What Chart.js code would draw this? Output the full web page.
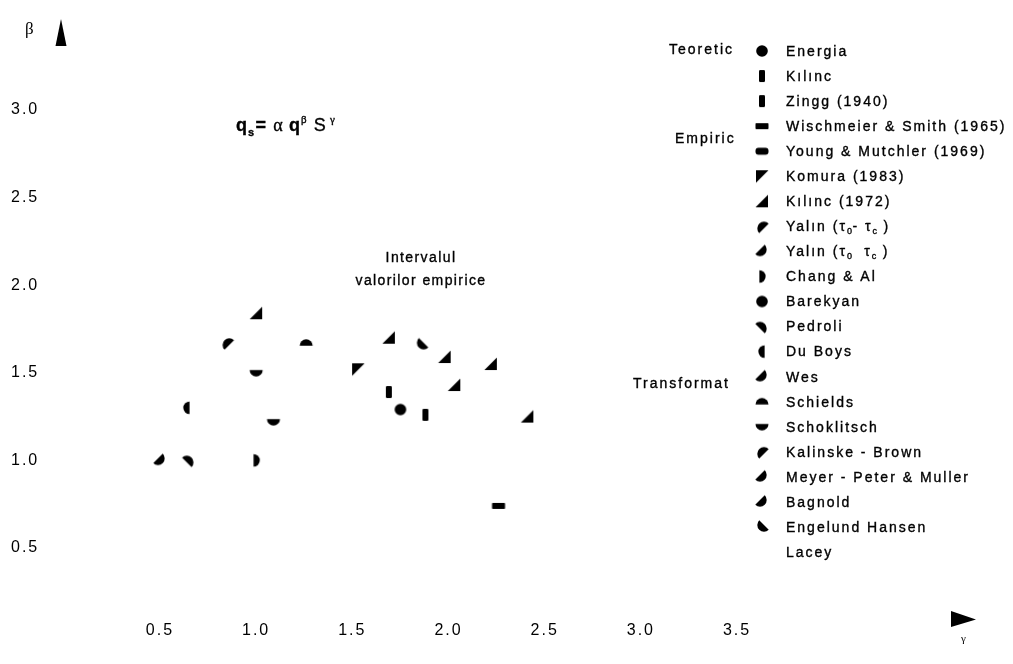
<!DOCTYPE html>
<html>
<head>
<meta charset="utf-8">
<script src="https://cdn.jsdelivr.net/npm/chart.js@4/dist/chart.umd.min.js"></script>
<style>
  html, body { margin: 0; padding: 0; background: #fff; }
  canvas { display: block; }
</style>
</head>
<body>
<canvas id="chart" width="1013" height="664"></canvas>
<script>
// Axis ticks
const xTickValues = [0.5, 1.0, 1.5, 2.0, 2.5, 3.0, 3.5];
const xTickLabels = ['0.5', '1.0', '1.5', '2.0', '2.5', '3.0', '3.5'];
const yTickValues = [0.5, 1.0, 1.5, 2.0, 2.5, 3.0];
const yTickLabels = ['0.5', '1.0', '1.5', '2.0', '2.5', '3.0'];

// Formulas listed in the key, top to bottom
const seriesNames = [
  'Energia', 'Kılınc', 'Zingg (1940)', 'Wischmeier & Smith (1965)',
  'Young & Mutchler (1969)', 'Komura (1983)', 'Kılınc (1972)',
  'Yalın (τ0- τc )', 'Yalın (τ0  τc )', 'Chang & Al', 'Barekyan', 'Pedroli',
  'Du Boys', 'Wes', 'Schields', 'Schoklitsch', 'Kalinske - Brown',
  'Meyer - Peter & Muller', 'Bagnold', 'Engelund Hansen', 'Lacey'
];

// Group captions of the key
const groupNames = ['Teoretic', 'Empiric', 'Transformat'];

// Exponent pairs (γ for S, β for q), one entry per plotted formula
const pointSeries = [
  'Energia', 'Kılınc', 'Zingg (1940)', 'Wischmeier & Smith (1965)', 'Komura (1983)',
  'Kılınc (1972)', 'Kılınc (1972)', 'Kılınc (1972)', 'Kılınc (1972)', 'Kılınc (1972)', 'Kılınc (1972)',
  'Kalinske - Brown', 'Schields', 'Schoklitsch', 'Schoklitsch', 'Du Boys',
  'Meyer - Peter & Muller', 'Pedroli', 'Chang & Al', 'Engelund Hansen'
];
const pointGamma = [
  1.75, 1.69, 1.88, 2.26, 1.53,
  1.00, 1.69, 1.98, 2.22, 2.03, 2.41,
  0.85, 1.26, 1.00, 1.09, 0.64,
  0.50, 0.65, 1.00, 1.86
];
const pointBeta = [
  1.29, 1.39, 1.26, 0.74, 1.52,
  1.84, 1.70, 1.59, 1.55, 1.43, 1.25,
  1.67, 1.67, 1.50, 1.22, 1.30,
  1.00, 1.00, 1.00, 1.66
];

// Marker glyph used for each formula
const markerKind = {
  'Energia': 'disc', 'Kılınc': 'vbar', 'Zingg (1940)': 'vbar',
  'Wischmeier & Smith (1965)': 'hbar', 'Young & Mutchler (1969)': 'hbarRound',
  'Komura (1983)': 'triUL', 'Kılınc (1972)': 'triLR',
  'Yalın (τ0- τc )': 'halfUL', 'Yalın (τ0  τc )': 'halfLR',
  'Chang & Al': 'halfR', 'Barekyan': 'disc', 'Pedroli': 'halfUR',
  'Du Boys': 'halfL', 'Wes': 'halfLR', 'Schields': 'halfT',
  'Schoklitsch': 'halfB', 'Kalinske - Brown': 'halfUL',
  'Meyer - Peter & Muller': 'halfLR', 'Bagnold': 'halfLR',
  'Engelund Hansen': 'halfLL', 'Lacey': null
};

const FONT = '"Liberation Sans", Arial, sans-serif';
const SERIF = '"Liberation Serif", serif';
const INK = '#000';

// Builds a small bitmap used as a point style
function markerCanvas(kind) {
  const S = 18;
  const c = document.createElement('canvas');
  c.width = S; c.height = S;
  if (!kind) return c;
  const g = c.getContext('2d');
  g.fillStyle = '#000';
  g.translate(S / 2, S / 2);
  g.beginPath();
  const half = (dir, r) => {
    const ox = -Math.cos(dir) * r * 0.42, oy = -Math.sin(dir) * r * 0.42;
    g.arc(ox, oy, r, dir - Math.PI / 2, dir + Math.PI / 2);
    g.closePath();
  };
  switch (kind) {
    case 'disc': g.arc(0, 0, 5.8, 0, Math.PI * 2); break;
    case 'vbar': g.roundRect(-3, -6, 6, 12, 1.2); break;
    case 'hbar': g.roundRect(-6.5, -3, 13, 6, 0.8); break;
    case 'hbarRound': g.roundRect(-6.5, -3.5, 13, 7, 3); break;
    case 'triUL': g.moveTo(-6, -6); g.lineTo(6.5, -6); g.lineTo(-6, 6.5); g.closePath(); break;
    case 'triLR': g.moveTo(6, -6.5); g.lineTo(6, 6); g.lineTo(-6.5, 6); g.closePath(); break;
    case 'halfR': half(0, 6.3); break;
    case 'halfL': half(Math.PI, 6.3); break;
    case 'halfT': half(-Math.PI / 2, 6.5); break;
    case 'halfB': half(Math.PI / 2, 6.5); break;
    case 'halfUL': half(-3 * Math.PI / 4, 6.7); break;
    case 'halfLR': half(Math.PI / 4, 6.7); break;
    case 'halfLL': half(3 * Math.PI / 4, 6.7); break;
    case 'halfUR': half(-Math.PI / 4, 6.7); break;
  }
  g.fill();
  return c;
}

const markers = {};
seriesNames.forEach(n => { markers[n] = markerCanvas(markerKind[n]); });

const datasets = seriesNames
  .map(name => {
    const data = [];
    pointSeries.forEach((s, i) => { if (s === name) data.push({ x: pointGamma[i], y: pointBeta[i] }); });
    return { label: name, data, pointStyle: markers[name], pointRadius: 6, showLine: false };
  })
  .filter(d => d.data.length > 0);

// Draws a run of text pieces; pieces flagged sub/sup are set smaller and shifted
function drawRich(ctx, x, y, pieces, size, spacing) {
  let cx = x;
  pieces.forEach(p => {
    const sz = p.sub || p.sup ? Math.round(size * 0.62) : size;
    ctx.font = (p.bold ? 'bold ' : '') + sz + 'px ' + (p.font || FONT);
    ctx.letterSpacing = (p.sub || p.sup ? 0.5 : spacing) + 'px';
    const dy = p.sub ? size * 0.3 : p.sup ? -size * 0.42 : 0;
    ctx.fillText(p.t, cx, y + dy);
    ctx.strokeText(p.t, cx, y + dy);
    cx += ctx.measureText(p.t).width + (p.gap || 0);
  });
}

function labelPieces(name) {
  const out = [];
  let buf = '';
  for (let i = 0; i < name.length; i++) {
    const ch = name[i];
    if ((ch === '0' || ch === 'c') && name[i - 1] === 'τ') {
      out.push({ t: buf }); buf = '';
      out.push({ t: ch, sub: true });
    } else buf += ch;
  }
  if (buf) out.push({ t: buf });
  return out;
}

function heavyText(ctx, t, x, y) {
  ctx.fillText(t, x, y);
  ctx.strokeText(t, x, y);
}

const decorations = {
  id: 'decorations',
  beforeDraw(chart) {
    chart.ctx.letterSpacing = '2px';
  },
  afterDraw(chart) {
    const ctx = chart.ctx;
    ctx.save();
    ctx.fillStyle = INK;
    ctx.strokeStyle = INK;
    ctx.lineWidth = 0.35;
    ctx.textBaseline = 'middle';
    ctx.textAlign = 'left';

    // key: markers and formula names
    const rowTop = 51, rowStep = 25.05, markX = 762, textX = 786;
    seriesNames.forEach((name, i) => {
      const y = rowTop + i * rowStep;
      const m = markers[name];
      if (markerKind[name]) ctx.drawImage(m, markX - m.width / 2, y - m.height / 2);
      drawRich(ctx, textX, y + 1, labelPieces(name), 14, 2);
    });

    // group captions
    ctx.font = '14px ' + FONT;
    ctx.letterSpacing = '2px';
    heavyText(ctx, groupNames[0], 669, rowTop - 1);
    heavyText(ctx, groupNames[1], 675, rowTop + 3.5 * rowStep);
    heavyText(ctx, groupNames[2], 633, rowTop + 13.3 * rowStep);

    // range caption
    ctx.textAlign = 'center';
    ctx.font = '14px ' + FONT;
    ctx.letterSpacing = '1.4px';
    heavyText(ctx, 'Intervalul', 421, 258);
    heavyText(ctx, 'valorilor empirice', 421, 281);

    // transport formula
    ctx.textAlign = 'left';
    ctx.textBaseline = 'alphabetic';
    drawRich(ctx, 236, 131, [
      { t: 'q', bold: true },
      { t: 's', sub: true, bold: true, gap: 1 },
      { t: '= ', bold: true },
      { t: 'α ', font: SERIF },
      { t: 'q', bold: true },
      { t: 'β  ', sup: true, font: SERIF },
      { t: 'S' },
      { t: ' γ', sup: true, font: SERIF }
    ], 18, 1);

    // axis arrows and names
    ctx.beginPath();
    ctx.moveTo(61, 19); ctx.lineTo(66.5, 46); ctx.lineTo(55.5, 46); ctx.closePath();
    ctx.fill();
    ctx.beginPath();
    ctx.moveTo(951, 611); ctx.lineTo(976, 619.5); ctx.lineTo(951, 627); ctx.closePath();
    ctx.fill();
    ctx.letterSpacing = '0px';
    ctx.font = '17px ' + SERIF;
    ctx.fillText('β', 25, 34);
    ctx.font = '11px ' + SERIF;
    ctx.fillText('γ', 961, 642);
    ctx.restore();
  }
};

const tickFont = { family: FONT, size: 16 };

new Chart(document.getElementById('chart'), {
  type: 'scatter',
  data: { datasets },
  options: {
    responsive: false,
    animation: false,
    events: [],
    layout: { padding: { left: 11, right: 199, top: 75, bottom: 0 } },
    plugins: { legend: { display: false }, tooltip: { enabled: false } },
    scales: {
      x: {
        type: 'linear', min: 0.1, max: 3.9,
        grid: { display: false, drawTicks: false },
        border: { display: false },
        afterBuildTicks: s => { s.ticks = xTickValues.map(v => ({ value: v })); },
        afterFit: s => { s.height = 46; },
        ticks: {
          callback: (v, i) => xTickLabels[i],
          font: tickFont, color: INK, padding: 3,
          maxRotation: 0, autoSkip: false
        }
      },
      y: {
        type: 'linear', min: 0.1, max: 3.2,
        grid: { display: false, drawTicks: false },
        border: { display: false },
        afterBuildTicks: s => { s.ticks = yTickValues.map(v => ({ value: v })); },
        afterFit: s => { s.width = 72; },
        ticks: {
          callback: (v, i) => yTickLabels[i],
          font: tickFont, color: INK, crossAlign: 'far',
          autoSkip: false
        }
      }
    }
  },
  plugins: [decorations]
});
</script>
</body>
</html>
